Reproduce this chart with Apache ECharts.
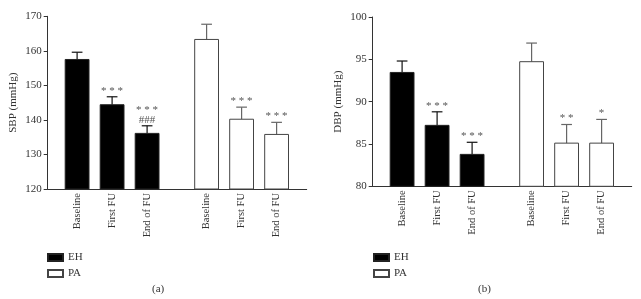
<!DOCTYPE html>
<html>
<head>
<meta charset="utf-8">
<script src="https://cdn.jsdelivr.net/npm/echarts@6/dist/echarts.min.js"></script>
<style>
html,body{margin:0;padding:0;background:#fff;}
#chartDiv{width:641px;height:299px;}
</style>
</head>
<body>
<div id="chartDiv"></div>
<script>
var categories = ['Baseline', 'First FU', 'End of FU'];
// SBP (a)
var sbpEH = [157.5, 144.4, 136.1];
var sbpEHsd = [2.1, 2.3, 2.2];
var sbpPA = [163.3, 140.2, 135.8];
var sbpPAsd = [4.4, 3.5, 3.5];
var sbpEHmark = ['', '***', '***\n###'];
var sbpPAmark = ['', '***', '***'];
// DBP (b)
var dbpEH = [93.45, 87.2, 83.77];
var dbpEHsd = [1.35, 1.6, 1.43];
var dbpPA = [94.72, 85.1, 85.1];
var dbpPAsd = [2.2, 2.2, 2.8];
var dbpEHmark = ['', '***', '***'];
var dbpPAmark = ['', '**', '*'];

var sbpTicks = {min: 120, max: 170, interval: 10};
var dbpTicks = {min: 80, max: 100, interval: 5};

var font = '"Liberation Serif", "DejaVu Serif", serif';

function makeData(vals, sd, marks){
	var arr = [];
	for(var j = 0; j < vals.length; j++){
		arr.push([j, vals[j], sd[j], marks[j], categories[j]]);
	}
	return arr;
}

// spaced out stars, like "* * *"
function spaced(mark){
	return mark.split('\n').map(function(s){
		return s.indexOf('*') >= 0 ? s.split('').join(' ') : s;
	}).join('\n');
}

// offset: where the group starts on the x value axis
function barSeries(name, idx, data, offset, fill, stroke, errColor, yMin){
	return {
		name: name,
		type: 'custom',
		xAxisIndex: idx,
		yAxisIndex: idx,
		clip: false,
		itemStyle: {color: fill, borderColor: stroke, borderWidth: 1},
		data: data,
		renderItem: function(params, api){
			var x = api.value(0) + offset;
			var top = api.coord([x, api.value(1)]);
			var base = api.coord([x, yMin]);
			var err = api.coord([x, api.value(1) + api.value(2)]);
			var w = api.size([1, 0])[0] * 0.68;
			var cap = w * 0.45;
			var children = [
				{type: 'line', shape: {x1: top[0], y1: top[1], x2: err[0], y2: err[1]},
					style: {stroke: errColor, lineWidth: 1.2}},
				{type: 'line', shape: {x1: err[0] - cap / 2, y1: err[1], x2: err[0] + cap / 2, y2: err[1]},
					style: {stroke: errColor, lineWidth: 1.2}},
				{type: 'rect', shape: {x: top[0] - w / 2, y: top[1], width: w, height: base[1] - top[1]},
					style: {fill: fill, stroke: stroke, lineWidth: 1}},
				{type: 'text', rotation: Math.PI / 2, x: base[0], y: base[1] + 4,
					style: {text: categories[api.value(0)], font: '10.5px ' + font, fill: '#333',
						align: 'right', verticalAlign: 'middle'}}
			];
			var mark = data[params.dataIndex][3];
			if(mark){
				children.push({type: 'text', x: err[0], y: err[1] - 1,
					style: {text: spaced(mark), font: '11px ' + font, fill: '#555',
						align: 'center', verticalAlign: 'bottom', lineHeight: 10}});
			}
			return {type: 'group', children: children};
		}
	};
}

function yAxisOf(idx, name, t){
	return {
		type: 'value', gridIndex: idx, min: t.min, max: t.max, interval: t.interval,
		name: name, nameLocation: 'middle', nameGap: 29,
		nameTextStyle: {fontFamily: font, fontSize: 11, color: '#333'},
		axisLine: {show: true, lineStyle: {color: '#333', width: 1}},
		axisTick: {show: true, length: 4, lineStyle: {color: '#333'}},
		axisLabel: {fontFamily: font, fontSize: 11, color: '#333', margin: 6},
		splitLine: {show: false}
	};
}
function xAxisOf(idx){
	return {
		type: 'value', gridIndex: idx, min: 0.16, max: 7.56,
		axisLine: {show: true, onZero: false, lineStyle: {color: '#333', width: 1}},
		axisTick: {show: false}, axisLabel: {show: false}, splitLine: {show: false}
	};
}

var legendText = {fontFamily: font, fontSize: 11, color: '#333'};
option = {
	backgroundColor: '#fff',
	animation: false,
	title: [
		{text: '(a)', left: 147, top: 279, textStyle: {fontFamily: font, fontSize: 11, fontWeight: 'normal', color: '#333'}},
		{text: '(b)', left: 473, top: 279, textStyle: {fontFamily: font, fontSize: 11, fontWeight: 'normal', color: '#333'}}
	],
	legend: [
		{orient: 'vertical', left: 42, top: 247, itemWidth: 15, itemHeight: 7, itemGap: 5, icon: 'rect',
			data: ['EH', 'PA'], textStyle: legendText},
		{orient: 'vertical', left: 368, top: 247, itemWidth: 15, itemHeight: 7, itemGap: 5, icon: 'rect',
			data: ['EH', 'PA'], textStyle: legendText}
	],
	grid: [
		{left: 47.7, top: 16.3, width: 259, height: 172.7},
		{left: 372.7, top: 17, width: 259, height: 169.3}
	],
	xAxis: [xAxisOf(0), xAxisOf(1)],
	yAxis: [yAxisOf(0, 'SBP (mmHg)', sbpTicks), yAxisOf(1, 'DBP (mmHg)', dbpTicks)],
	series: [
		barSeries('EH', 0, makeData(sbpEH, sbpEHsd, sbpEHmark), 1, '#000', '#222', '#111', sbpTicks.min),
		barSeries('PA', 0, makeData(sbpPA, sbpPAsd, sbpPAmark), 4.7, '#fff', '#444', '#666', sbpTicks.min),
		barSeries('EH', 1, makeData(dbpEH, dbpEHsd, dbpEHmark), 1, '#000', '#222', '#111', dbpTicks.min),
		barSeries('PA', 1, makeData(dbpPA, dbpPAsd, dbpPAmark), 4.7, '#fff', '#444', '#666', dbpTicks.min)
	]
};
var myCharts1 = echarts.init(document.getElementById('chartDiv'));
myCharts1.setOption(option, true);
</script>
</body>
</html>
